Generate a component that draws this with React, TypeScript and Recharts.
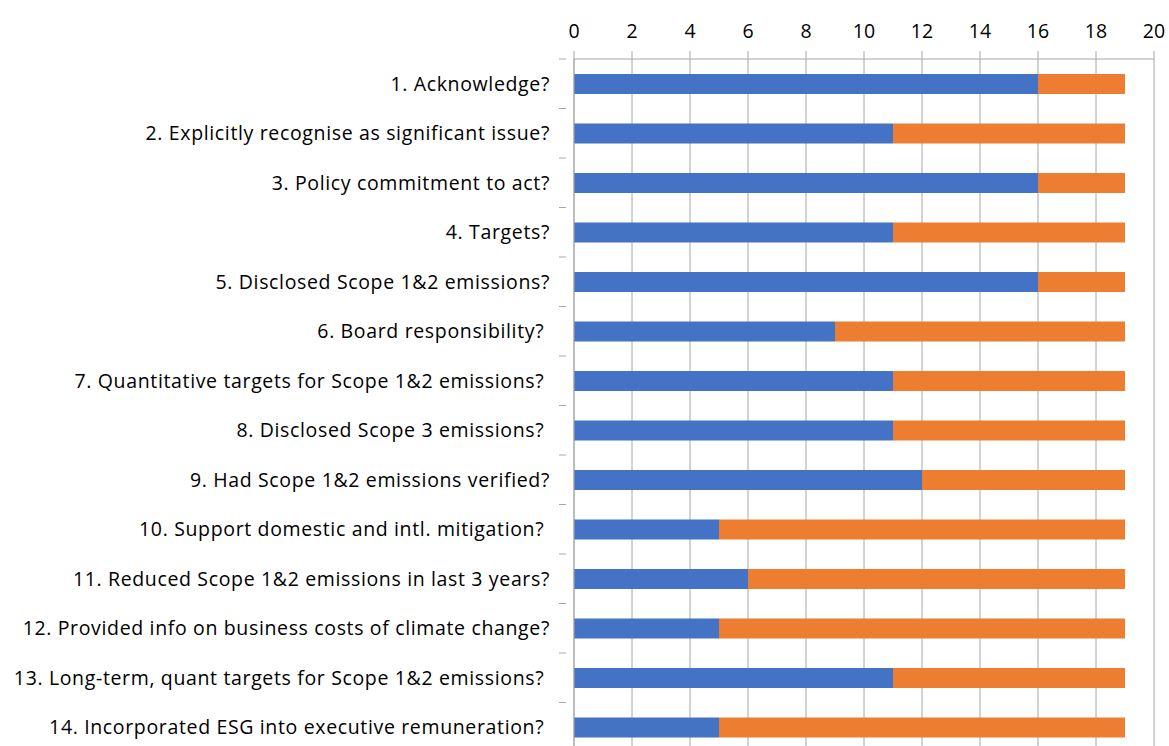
import { BarChart, Bar, XAxis, YAxis, CartesianGrid } from 'recharts';

const questions = [
  '1. Acknowledge?',
  '2. Explicitly recognise as significant issue?',
  '3. Policy commitment to act?',
  '4. Targets?',
  '5. Disclosed Scope 1&2 emissions?',
  '6. Board responsibility? ',
  '7. Quantitative targets for Scope 1&2 emissions? ',
  '8. Disclosed Scope 3 emissions? ',
  '9. Had Scope 1&2 emissions verified?',
  '10. Support domestic and intl. mitigation? ',
  '11. Reduced Scope 1&2 emissions in last 3 years?',
  '12. Provided info on business costs of climate change?',
  '13. Long-term, quant targets for Scope 1&2 emissions? ',
  '14. Incorporated ESG into executive remuneration? ',
];

const yesCounts = [16, 11, 16, 11, 16, 9, 11, 11, 12, 5, 6, 5, 11, 5];
const noCounts = [3, 8, 3, 8, 3, 10, 8, 8, 7, 14, 13, 14, 8, 14];

const xTicks = [0, 2, 4, 6, 8, 10, 12, 14, 16, 18, 20];

const data = questions.map((q, i) => ({ name: q, yes: yesCounts[i], no: noCounts[i] }));

const FONT = '"Open Sans", sans-serif';
const GRID = '#a6a6a6';
const PLOT_TOP = 59;
const PLOT_H = 693;
const BAND = PLOT_H / questions.length;

function CategoryTick(props: any) {
  const { x, y, payload } = props;
  return (
    <g>
      <line x1={x - 7} x2={x} y1={y - BAND / 2} y2={y - BAND / 2} stroke={GRID} strokeWidth={1} />
      <text
        x={x - 16}
        y={y}
        dy="0.36em"
        textAnchor="end"
        fill="#000"
        fontSize={19.5}
        letterSpacing={0.65}
        fontFamily={FONT}
        style={{ whiteSpace: 'pre' }}
      >
        {payload.value}
      </text>
    </g>
  );
}

export default function App() {
  return (
    <div style={{ position: 'absolute', left: 0, top: 0, width: 1169, height: 746, overflow: 'hidden', background: '#fff' }}>
      <BarChart
        width={1169}
        height={PLOT_TOP + PLOT_H + 8}
        data={data}
        layout="vertical"
        margin={{ top: 0, right: 15, bottom: 8, left: 0 }}
        barSize={20}
      >
        <CartesianGrid horizontal={false} vertical stroke={GRID} />
        <XAxis
          type="number"
          orientation="top"
          domain={[0, 20]}
          ticks={xTicks}
          height={PLOT_TOP}
          tickSize={8}
          tickMargin={13}
          axisLine={{ stroke: GRID }}
          tickLine={{ stroke: GRID }}
          tick={{ fill: '#000', fontSize: 19.5, fontFamily: FONT }}
          interval={0}
        />
        <YAxis
          type="category"
          dataKey="name"
          width={574}
          axisLine={{ stroke: GRID }}
          tickLine={false}
          tick={<CategoryTick />}
          interval={0}
        />
        <Bar dataKey="yes" stackId="a" fill="#4472c4" isAnimationActive={false} />
        <Bar dataKey="no" stackId="a" fill="#ed7d31" isAnimationActive={false} />
      </BarChart>
    </div>
  );
}
